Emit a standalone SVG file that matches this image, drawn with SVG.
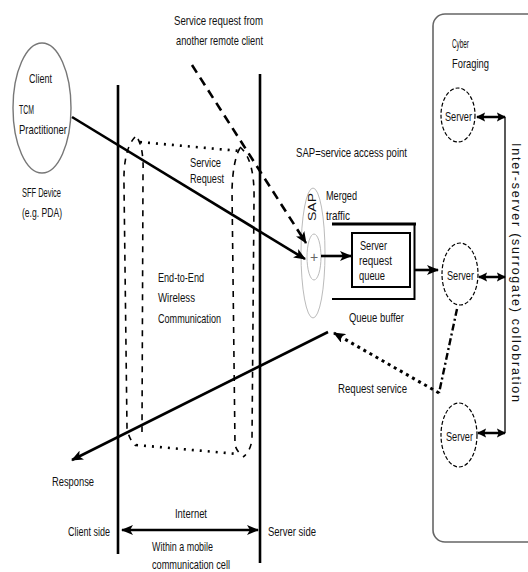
<svg xmlns="http://www.w3.org/2000/svg" width="528" height="572" viewBox="0 0 528 572">
  <style>
    text { font-family: "Liberation Sans Narrow", "Liberation Sans", Arial, sans-serif; font-size: 13px; fill: #111; }
    .thick { stroke: #000; stroke-width: 2.6; fill: none; }
    .tube-dot { stroke: #000; stroke-width: 2.6; fill: none; stroke-dasharray: 2 6; stroke-linecap: butt; }
    .tube-dash { stroke: #000; stroke-width: 1.6; fill: none; stroke-dasharray: 6 6; }
    .server { fill: #fff; stroke: #000; stroke-width: 1.2; stroke-dasharray: 4 2; }
    .dbl { stroke: #000; stroke-width: 2.5; fill: none; }
  </style>
  <defs>
    <marker id="arrow" viewBox="0 0 12 10" refX="11" refY="5" markerWidth="12" markerHeight="10" markerUnits="userSpaceOnUse" orient="auto-start-reverse">
      <path d="M0,0 L12,5 L0,10 L3,5 z" fill="#000"/>
    </marker>
    <marker id="arrowSmall" viewBox="0 0 10 10" refX="9" refY="5" markerWidth="9" markerHeight="10" markerUnits="userSpaceOnUse" orient="auto-start-reverse">
      <path d="M0,0 L10,5 L0,10 L2,5 z" fill="#000"/>
    </marker>
  </defs>

  <!-- Cyber Foraging area -->
  <g id="cyber-foraging">
    <rect x="433" y="14" width="130" height="528" rx="12" fill="none" stroke="#666" stroke-width="1.6"/>
    <text x="452" y="48" textLength="17" lengthAdjust="spacingAndGlyphs">Cyber</text>
    <text x="452" y="68" textLength="37" lengthAdjust="spacingAndGlyphs">Foraging</text>
  </g>

  <!-- Client device -->
  <g id="client">
    <ellipse cx="42" cy="108" rx="29" ry="65" fill="#fff" stroke="#777" stroke-width="1.4"/>
    <text x="29" y="83" textLength="23" lengthAdjust="spacingAndGlyphs">Client</text>
    <text x="19" y="114" textLength="15" lengthAdjust="spacingAndGlyphs">TCM</text>
    <text x="19" y="134" textLength="48" lengthAdjust="spacingAndGlyphs">Practitioner</text>
    <text x="22" y="197" textLength="39" lengthAdjust="spacingAndGlyphs">SFF Device</text>
    <text x="22" y="217" textLength="40" lengthAdjust="spacingAndGlyphs">(e.g. PDA)</text>
  </g>

  <!-- Wireless channel tube -->
  <g id="wireless-channel">
    <path class="tube-dot" d="M140,142 L240,151"/>
    <path class="tube-dot" d="M136,445 L238,454"/>
    <path class="tube-dash" d="M135,137 Q123,150 124,185 L127,428 Q129,440 136,446"/>
    <path class="tube-dash" d="M138,139 Q144,150 143,175 L142,432"/>
    <path class="tube-dash" d="M240,148 Q233,160 232,190 L235,445 Q237,452 243,456"/>
    <path class="tube-dash" d="M240,147 Q255,160 254,200 L252,440 Q250,452 243,457"/>
    <text x="190" y="167" textLength="31" lengthAdjust="spacingAndGlyphs">Service</text>
    <text x="190" y="183" textLength="34" lengthAdjust="spacingAndGlyphs">Request</text>
    <text x="158" y="282" textLength="46" lengthAdjust="spacingAndGlyphs">End-to-End</text>
    <text x="158" y="302" textLength="37" lengthAdjust="spacingAndGlyphs">Wireless</text>
    <text x="158" y="323" textLength="63" lengthAdjust="spacingAndGlyphs">Communication</text>
  </g>

  <!-- Client / server side boundaries -->
  <g id="boundaries">
    <line x1="118" y1="85" x2="118" y2="554" stroke="#000" stroke-width="2.6"/>
    <line x1="260" y1="74" x2="260" y2="563" stroke="#000" stroke-width="2.6"/>
    <text x="68" y="536" textLength="42" lengthAdjust="spacingAndGlyphs">Client side</text>
    <text x="268" y="536" textLength="48" lengthAdjust="spacingAndGlyphs">Server side</text>
    <text x="175" y="518" textLength="32" lengthAdjust="spacingAndGlyphs">Internet</text>
    <text x="152" y="551" textLength="61" lengthAdjust="spacingAndGlyphs">Within a mobile</text>
    <text x="152" y="569" textLength="78" lengthAdjust="spacingAndGlyphs">communication cell</text>
  </g>

  <!-- Service access point -->
  <g id="sap">
    <ellipse cx="313" cy="253" rx="12" ry="65" fill="none" stroke="#bbb" stroke-width="1"/>
    <ellipse cx="314" cy="257" rx="7" ry="23" fill="none" stroke="#bbb" stroke-width="1"/>
    <text x="314" y="262" text-anchor="middle" style="font-size:14px;fill:#666">+</text>
    <text transform="translate(316,207) rotate(-90)" text-anchor="middle" textLength="28" lengthAdjust="spacingAndGlyphs" style="font-size:11px">SAP</text>
    <text x="296" y="157" textLength="111" lengthAdjust="spacingAndGlyphs">SAP=service access point</text>
    <text x="326" y="200" textLength="31" lengthAdjust="spacingAndGlyphs">Merged</text>
    <text x="326" y="220" textLength="24" lengthAdjust="spacingAndGlyphs">traffic</text>
  </g>

  <!-- Queue buffer -->
  <g id="queue-buffer">
    <line x1="332" y1="224" x2="416" y2="224" stroke="#000" stroke-width="3"/>
    <line x1="414.5" y1="223" x2="414.5" y2="300" stroke="#000" stroke-width="2"/>
    <line x1="332" y1="299" x2="415" y2="299" stroke="#000" stroke-width="2"/>
    <rect x="352" y="233" width="58" height="54" fill="#fff" stroke="#000" stroke-width="2"/>
    <text x="360" y="250" textLength="27" lengthAdjust="spacingAndGlyphs">Server</text>
    <text x="359" y="265" textLength="33" lengthAdjust="spacingAndGlyphs">request</text>
    <text x="359" y="280" textLength="26" lengthAdjust="spacingAndGlyphs">queue</text>
    <text x="349" y="322" textLength="55" lengthAdjust="spacingAndGlyphs">Queue buffer</text>
  </g>

  <!-- Servers -->
  <g id="server-1">
    <ellipse class="server" cx="458" cy="115" rx="17" ry="27"/>
    <text x="445" y="121" textLength="27" lengthAdjust="spacingAndGlyphs">Server</text>
  </g>
  <g id="server-2">
    <ellipse class="server" cx="460" cy="274" rx="18" ry="31"/>
    <text x="447" y="280" textLength="27" lengthAdjust="spacingAndGlyphs">Server</text>
  </g>
  <g id="server-3">
    <ellipse class="server" cx="459" cy="435" rx="18" ry="32"/>
    <text x="446" y="441" textLength="27" lengthAdjust="spacingAndGlyphs">Server</text>
  </g>

  <g id="collaboration">
    <line x1="505" y1="117" x2="505" y2="433" stroke="#000" stroke-width="1.3"/>
    <text transform="translate(512,143) rotate(90)" textLength="259" lengthAdjust="spacing" style="font-family:'Liberation Sans',Arial,sans-serif;font-size:12.5px">Inter-server (surrogate) collobration</text>
  </g>

  <!-- Connectors -->
  <g id="connectors">
    <line class="thick" x1="72" y1="117" x2="305" y2="259" marker-end="url(#arrow)"/>
    <line x1="192" y1="65" x2="306" y2="243" stroke="#000" stroke-width="2.6" stroke-dasharray="9 6" marker-end="url(#arrow)"/>
    <line class="thick" x1="321" y1="256" x2="351" y2="256" marker-end="url(#arrow)"/>
    <line class="thick" x1="415" y1="270" x2="438" y2="270" marker-end="url(#arrow)"/>
    <line class="thick" x1="328" y1="332" x2="72" y2="460" marker-end="url(#arrow)"/>
    <line class="thick" x1="122" y1="530" x2="258" y2="530" marker-start="url(#arrow)" marker-end="url(#arrow)"/>
    <path d="M457,309 L439,393" stroke="#000" stroke-width="2.4" fill="none" stroke-dasharray="7 3 2 3"/>
    <line x1="439" y1="393" x2="334" y2="333" stroke="#000" stroke-width="3" stroke-dasharray="3 4" marker-end="url(#arrow)"/>
    <line class="dbl" x1="477" y1="117" x2="505" y2="117" marker-start="url(#arrowSmall)" marker-end="url(#arrowSmall)"/>
    <line class="dbl" x1="479" y1="277" x2="505" y2="277" marker-start="url(#arrowSmall)" marker-end="url(#arrowSmall)"/>
    <line class="dbl" x1="478" y1="433" x2="505" y2="433" marker-start="url(#arrowSmall)" marker-end="url(#arrowSmall)"/>
  </g>

  <g id="labels">
    <text x="174" y="25" textLength="89" lengthAdjust="spacingAndGlyphs">Service request from</text>
    <text x="176" y="45" textLength="87" lengthAdjust="spacingAndGlyphs">another remote client</text>
    <text x="338" y="393" textLength="69" lengthAdjust="spacingAndGlyphs">Request service</text>
    <text x="52" y="486" textLength="42" lengthAdjust="spacingAndGlyphs">Response</text>
  </g>
</svg>
